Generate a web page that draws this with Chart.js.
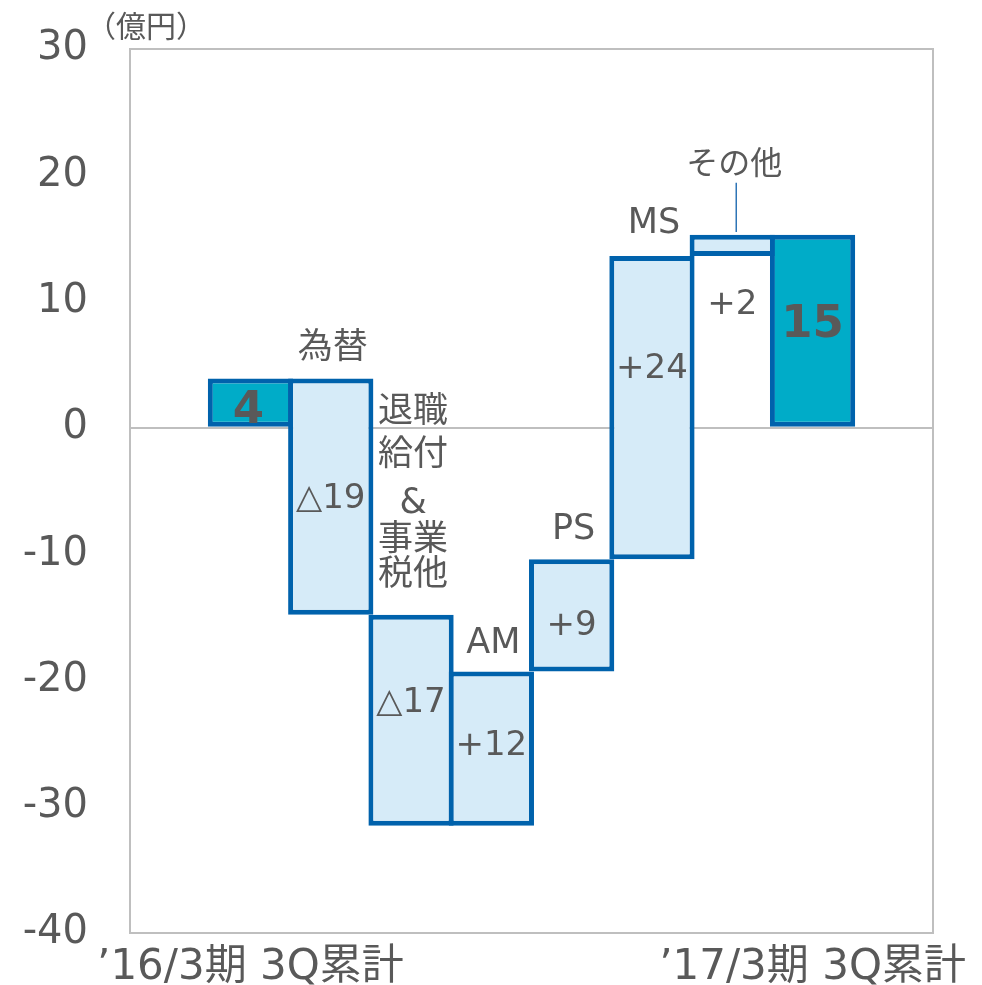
<!DOCTYPE html>
<html>
<head>
<meta charset="utf-8">
<script src="https://cdn.jsdelivr.net/npm/chart.js@4"></script>
<style>
  body { margin: 0; background: #fff; }
</style>
</head>
<body>
<canvas id="bridge" width="982" height="985"></canvas>
<script>
// categories (first and last are empty spacers)
var categories = ['', '’16/3期 3Q累計', '為替', '退職給付&事業税他', 'AM', 'PS', 'MS', 'その他', '’17/3期 3Q累計', ''];
var axisLabels = ['', '’16/3期 3Q累計', '', '', '', '', '', '', '’17/3期 3Q累計', ''];
// floating bar ranges (億円)
var barLow  = [null, 0,   -14.8, -31.5, -31.5, -19.3, -10.4, 13.6, 0,    null];
var barHigh = [null, 3.9,   3.9, -14.8, -19.3, -10.4,  13.6, 15.3, 15.3, null];
var valueLabels = ['', '4', '△19', '△17', '+12', '+9', '+24', '+2', '15', ''];
var yTicks = [30, 20, 10, 0, -10, -20, -30, -40];

// where the texts sit (y in axis units)
var valueLabelY = [null, 1.6, -5.3, -21.5, -24.9, -15.4, 5.0, 10.0, 8.4, null];
var nameLines = [
    null, null,
    [['為替', 6.6]],
    [['退職', 1.5], ['給付', -1.9], ['&', -5.7], ['事業', -8.6], ['税他', -11.4]],
    [['AM', -16.8]],
    [['PS', -7.8]],
    [['MS', 16.5]],
    [['その他', 21.1]],
    null, null
];

var GREY = '#595959';
var BORDER = '#0062ac';
var TEAL = '#00acc8';
var LIGHT = '#d6ebf8';
var FONT = "'DejaVu Sans', 'Noto Sans CJK JP', sans-serif";

var ranges = [];
var fills = [];
for (var i = 0; i < categories.length; i++) {
    ranges.push(barLow[i] === null ? null : [barLow[i], barHigh[i]]);
    fills.push(i == 1 || i == 8 ? TEAL : LIGHT);
}

var labelsPlugin = {
    id: 'bridgeLabels',
    beforeDatasetsDraw: function(chart) {
        var a = chart.chartArea, ctx = chart.ctx;
        ctx.save();
        ctx.strokeStyle = '#bfbfbf';
        ctx.lineWidth = 2;
        ctx.strokeRect(a.left, a.top, a.right - a.left, a.bottom - a.top);
        ctx.restore();
    },
    afterDatasetsDraw: function(chart) {
        var ctx = chart.ctx;
        var y = chart.scales.y;
        var bars = chart.getDatasetMeta(0).data;
        var nudge = 4; // text 'middle' sits a little high
        ctx.save();
        ctx.textAlign = 'center';
        ctx.textBaseline = 'middle';
        ctx.fillStyle = GREY;
        for (var i = 0; i < categories.length; i++) {
            if (!ranges[i]) continue;
            var x = bars[i].x;
            if (i == 1 || i == 8) {
                ctx.font = 'bold 45px ' + FONT;
            } else {
                ctx.font = '34px ' + FONT;
            }
            ctx.fillText(valueLabels[i], x + (i == 1 ? -2 : 0), y.getPixelForValue(valueLabelY[i]) + nudge);
            if (nameLines[i]) {
                ctx.font = (i == 7 ? '32px ' : '35px ') + FONT;
                nameLines[i].forEach(function(l) {
                    ctx.fillText(l[0], x + 2, y.getPixelForValue(l[1]) + nudge);
                });
            }
        }
        // leader line for その他
        var lx = bars[7].x + 4;
        ctx.strokeStyle = '#2e75b6';
        ctx.lineWidth = 1.5;
        ctx.beginPath();
        ctx.moveTo(lx, y.getPixelForValue(19.4));
        ctx.lineTo(lx, y.getPixelForValue(15.5));
        ctx.stroke();
        // unit
        ctx.font = '30px ' + FONT;
        ctx.fillText('（億円）', 146, 29);
        ctx.restore();
    }
};

new Chart(document.getElementById('bridge').getContext('2d'), {
    type: 'bar',
    data: {
        labels: axisLabels,
        datasets: [{
            data: ranges,
            backgroundColor: fills,
            borderColor: BORDER,
            borderWidth: 5,
            borderSkipped: false,
            barPercentage: 1.062,
            categoryPercentage: 1
        }]
    },
    options: {
        responsive: false,
        animation: false,
        layout: { padding: { top: 49, right: 49, left: 0, bottom: 0 } },
        plugins: { legend: { display: false }, tooltip: { enabled: false } },
        scales: {
            x: {
                grid: { display: false },
                border: { display: false },
                ticks: {
                    autoSkip: false, maxRotation: 0, padding: 2,
                    color: GREY, font: { family: FONT, size: 42 }
                },
                afterFit: function(s) { s.height = 52; s.paddingLeft = 0; s.paddingRight = 0; }
            },
            y: {
                min: -40, max: 30,
                afterBuildTicks: function(s) { s.ticks = yTicks.map(function(v) { return { value: v }; }); },
                grid: {
                    drawTicks: false,
                    lineWidth: 2,
                    color: function(c) { return c.tick && c.tick.value === 0 ? '#bfbfbf' : 'rgba(0,0,0,0)'; }
                },
                border: { display: false },
                ticks: { padding: 42, color: GREY, font: { family: FONT, size: 40 } },
                afterFit: function(s) { s.width = 130; s.paddingTop = 0; s.paddingBottom = 0; }
            }
        }
    },
    plugins: [labelsPlugin]
});
</script>
</body>
</html>
